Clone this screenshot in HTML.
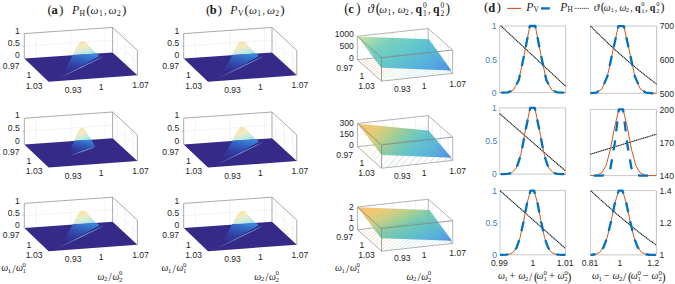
<!DOCTYPE html>
<html><head><meta charset="utf-8"><style>html,body{margin:0;padding:0;background:#fff;overflow:hidden}svg{display:block}</style></head>
<body><svg width="675" height="284" viewBox="0 0 675 284"><defs><linearGradient id="pkg" x1="0.25" y1="0" x2="0.8" y2="1"><stop offset="0" stop-color="#f6df94"/><stop offset="0.4" stop-color="#f2e8bc"/><stop offset="0.72" stop-color="#c4ead8"/><stop offset="1" stop-color="#90dce2"/></linearGradient><linearGradient id="slg" x1="0.7" y1="0" x2="0.3" y2="1"><stop offset="0" stop-color="#3a86d6"/><stop offset="0.25" stop-color="#3064c2"/><stop offset="0.55" stop-color="#3340a4"/><stop offset="0.8" stop-color="#352d8c"/><stop offset="1" stop-color="#352a87"/></linearGradient><linearGradient id="lng" x1="0" y1="0" x2="1" y2="0"><stop offset="0" stop-color="#6aaee6" stop-opacity="0.15"/><stop offset="0.5" stop-color="#7ab8ea" stop-opacity="0.95"/><stop offset="0.85" stop-color="#6aaee6" stop-opacity="0.8"/><stop offset="1" stop-color="#6aaee6" stop-opacity="0.3"/></linearGradient><filter id="bl" x="-20%" y="-20%" width="140%" height="140%"><feGaussianBlur stdDeviation="0.55"/></filter><clipPath id="cf1"><polygon points="357.30,59.70 428.20,51.90 452.60,73.40 381.50,81.20"/></clipPath><linearGradient id="sg1" gradientUnits="userSpaceOnUse" x1="357.63" y1="36.55" x2="402.39" y2="103.37"><stop offset="0" stop-color="#d0e18a"/><stop offset="0.1" stop-color="#a2d89c"/><stop offset="0.26" stop-color="#66c9b2"/><stop offset="0.5" stop-color="#4bbfc6"/><stop offset="0.75" stop-color="#40a5d9"/><stop offset="1" stop-color="#3b80e2"/></linearGradient><clipPath id="cf2"><polygon points="357.40,146.70 428.30,138.90 452.70,160.40 381.60,168.20"/></clipPath><linearGradient id="sg2" gradientUnits="userSpaceOnUse" x1="357.80" y1="123.70" x2="423.54" y2="186.94"><stop offset="0" stop-color="#f2b854"/><stop offset="0.17" stop-color="#e8c460"/><stop offset="0.32" stop-color="#b0c878"/><stop offset="0.45" stop-color="#78c498"/><stop offset="0.6" stop-color="#50bcc4"/><stop offset="0.79" stop-color="#44aad4"/><stop offset="1" stop-color="#3a7ee2"/></linearGradient><clipPath id="cf3"><polygon points="357.40,229.70 428.30,221.90 452.70,243.40 381.60,251.20"/></clipPath><linearGradient id="sg3" gradientUnits="userSpaceOnUse" x1="357.60" y1="207.30" x2="387.94" y2="270.97"><stop offset="0" stop-color="#f3b458"/><stop offset="0.15" stop-color="#f0c060"/><stop offset="0.29" stop-color="#c8c870"/><stop offset="0.42" stop-color="#90c888"/><stop offset="0.49" stop-color="#70c4a0"/><stop offset="0.64" stop-color="#50bcb8"/><stop offset="0.82" stop-color="#46a8d2"/><stop offset="1" stop-color="#3a80e2"/></linearGradient></defs><rect x="0" y="0" width="675" height="284" fill="#ffffff"/><line x1="36.00" y1="57.78" x2="36.00" y2="32.78" stroke="#ebebeb" stroke-width="0.6" /><line x1="70.70" y1="55.34" x2="70.70" y2="30.34" stroke="#ebebeb" stroke-width="0.6" /><line x1="105.30" y1="52.91" x2="105.30" y2="27.91" stroke="#ebebeb" stroke-width="0.6" /><line x1="24.30" y1="46.10" x2="112.60" y2="39.90" stroke="#ebebeb" stroke-width="0.6" /><line x1="116.82" y1="56.29" x2="116.82" y2="31.29" stroke="#ebebeb" stroke-width="0.6" /><line x1="125.00" y1="63.85" x2="125.00" y2="38.85" stroke="#ebebeb" stroke-width="0.6" /><line x1="133.18" y1="71.41" x2="133.18" y2="46.41" stroke="#ebebeb" stroke-width="0.6" /><line x1="112.60" y1="39.90" x2="137.40" y2="62.80" stroke="#ebebeb" stroke-width="0.6" /><line x1="24.30" y1="58.60" x2="24.30" y2="33.60" stroke="#a0a0a0" stroke-width="0.9" /><line x1="22.70" y1="46.10" x2="24.30" y2="46.10" stroke="#a0a0a0" stroke-width="0.7" /><line x1="24.30" y1="33.60" x2="112.60" y2="27.40" stroke="#a0a0a0" stroke-width="0.9" /><line x1="112.60" y1="52.40" x2="112.60" y2="27.40" stroke="#a0a0a0" stroke-width="0.9" /><line x1="112.60" y1="27.40" x2="137.40" y2="50.30" stroke="#a0a0a0" stroke-width="0.9" /><line x1="137.40" y1="75.30" x2="137.40" y2="50.30" stroke="#a0a0a0" stroke-width="0.9" /><path d="M72.80,54.40 C76.00,49.00 78.60,41.60 82.40,41.30 C86.40,41.00 90.00,47.60 96.40,53.60 Z" fill="url(#pkg)" fill-opacity="0.9" filter="url(#bl)"/><polygon points="24.30,58.60 112.60,52.40 137.40,75.30 48.60,81.80" fill="#352a87" /><polygon points="73.00,54.70 96.60,53.50 99.50,55.90 60.30,77.60" fill="url(#slg)" filter="url(#bl)"/><path d="M60.00,77.60 L102.80,56.80" stroke="url(#lng)" stroke-width="0.9" fill="none" filter="url(#bl)"/><text x="19.80" y="33.80" font-size="8.6" text-anchor="end" fill="#262626" font-family="Liberation Sans, sans-serif" >1</text><text x="19.80" y="46.20" font-size="8.6" text-anchor="end" fill="#262626" font-family="Liberation Sans, sans-serif" >0.5</text><text x="19.80" y="58.30" font-size="8.6" text-anchor="end" fill="#262626" font-family="Liberation Sans, sans-serif" >0</text><text x="19.60" y="68.70" font-size="8.6" text-anchor="end" fill="#262626" font-family="Liberation Sans, sans-serif" >0.97</text><text x="29.00" y="78.40" font-size="8.6" text-anchor="middle" fill="#262626" font-family="Liberation Sans, sans-serif" >1</text><text x="34.20" y="88.50" font-size="8.6" text-anchor="middle" fill="#262626" font-family="Liberation Sans, sans-serif" >1.03</text><text x="73.10" y="93.00" font-size="8.6" text-anchor="middle" fill="#262626" font-family="Liberation Sans, sans-serif" >0.93</text><text x="101.10" y="90.30" font-size="8.6" text-anchor="middle" fill="#262626" font-family="Liberation Sans, sans-serif" >1</text><text x="140.50" y="88.20" font-size="8.6" text-anchor="middle" fill="#262626" font-family="Liberation Sans, sans-serif" >1.07</text><line x1="36.00" y1="143.58" x2="36.00" y2="117.38" stroke="#ebebeb" stroke-width="0.6" /><line x1="70.70" y1="141.14" x2="70.70" y2="114.94" stroke="#ebebeb" stroke-width="0.6" /><line x1="105.30" y1="138.71" x2="105.30" y2="112.51" stroke="#ebebeb" stroke-width="0.6" /><line x1="24.30" y1="131.30" x2="112.60" y2="125.10" stroke="#ebebeb" stroke-width="0.6" /><line x1="116.82" y1="142.09" x2="116.82" y2="115.89" stroke="#ebebeb" stroke-width="0.6" /><line x1="125.00" y1="149.65" x2="125.00" y2="123.45" stroke="#ebebeb" stroke-width="0.6" /><line x1="133.18" y1="157.21" x2="133.18" y2="131.01" stroke="#ebebeb" stroke-width="0.6" /><line x1="112.60" y1="125.10" x2="137.40" y2="148.00" stroke="#ebebeb" stroke-width="0.6" /><line x1="24.30" y1="144.40" x2="24.30" y2="118.20" stroke="#a0a0a0" stroke-width="0.9" /><line x1="22.70" y1="131.30" x2="24.30" y2="131.30" stroke="#a0a0a0" stroke-width="0.7" /><line x1="24.30" y1="118.20" x2="112.60" y2="112.00" stroke="#a0a0a0" stroke-width="0.9" /><line x1="112.60" y1="138.20" x2="112.60" y2="112.00" stroke="#a0a0a0" stroke-width="0.9" /><line x1="112.60" y1="112.00" x2="137.40" y2="134.90" stroke="#a0a0a0" stroke-width="0.9" /><line x1="137.40" y1="161.10" x2="137.40" y2="134.90" stroke="#a0a0a0" stroke-width="0.9" /><path d="M74.30,140.20 C77.00,134.30 79.60,127.60 81.80,127.40 C84.20,127.60 87.40,133.80 91.40,139.70 Z" fill="url(#pkg)" fill-opacity="0.9" filter="url(#bl)"/><polygon points="24.30,144.40 112.60,138.20 137.40,161.10 48.60,167.60" fill="#352a87" /><polygon points="74.40,140.40 91.20,139.80 95.30,146.40 67.00,156.00" fill="url(#slg)" filter="url(#bl)"/><path d="M70.50,155.40 L94.80,147.10" stroke="url(#lng)" stroke-width="0.9" fill="none" filter="url(#bl)"/><text x="19.80" y="118.40" font-size="8.6" text-anchor="end" fill="#262626" font-family="Liberation Sans, sans-serif" >1</text><text x="19.80" y="131.40" font-size="8.6" text-anchor="end" fill="#262626" font-family="Liberation Sans, sans-serif" >0.5</text><text x="19.80" y="144.10" font-size="8.6" text-anchor="end" fill="#262626" font-family="Liberation Sans, sans-serif" >0</text><text x="19.60" y="154.50" font-size="8.6" text-anchor="end" fill="#262626" font-family="Liberation Sans, sans-serif" >0.97</text><text x="29.00" y="164.20" font-size="8.6" text-anchor="middle" fill="#262626" font-family="Liberation Sans, sans-serif" >1</text><text x="34.20" y="174.30" font-size="8.6" text-anchor="middle" fill="#262626" font-family="Liberation Sans, sans-serif" >1.03</text><text x="73.10" y="178.80" font-size="8.6" text-anchor="middle" fill="#262626" font-family="Liberation Sans, sans-serif" >0.93</text><text x="101.10" y="176.10" font-size="8.6" text-anchor="middle" fill="#262626" font-family="Liberation Sans, sans-serif" >1</text><text x="140.50" y="174.00" font-size="8.6" text-anchor="middle" fill="#262626" font-family="Liberation Sans, sans-serif" >1.07</text><line x1="36.00" y1="227.18" x2="36.00" y2="202.58" stroke="#ebebeb" stroke-width="0.6" /><line x1="70.70" y1="224.74" x2="70.70" y2="200.14" stroke="#ebebeb" stroke-width="0.6" /><line x1="105.30" y1="222.31" x2="105.30" y2="197.71" stroke="#ebebeb" stroke-width="0.6" /><line x1="24.30" y1="215.70" x2="112.60" y2="209.50" stroke="#ebebeb" stroke-width="0.6" /><line x1="116.82" y1="225.69" x2="116.82" y2="201.09" stroke="#ebebeb" stroke-width="0.6" /><line x1="125.00" y1="233.25" x2="125.00" y2="208.65" stroke="#ebebeb" stroke-width="0.6" /><line x1="133.18" y1="240.81" x2="133.18" y2="216.21" stroke="#ebebeb" stroke-width="0.6" /><line x1="112.60" y1="209.50" x2="137.40" y2="232.40" stroke="#ebebeb" stroke-width="0.6" /><line x1="24.30" y1="228.00" x2="24.30" y2="203.40" stroke="#a0a0a0" stroke-width="0.9" /><line x1="22.70" y1="215.70" x2="24.30" y2="215.70" stroke="#a0a0a0" stroke-width="0.7" /><line x1="24.30" y1="203.40" x2="112.60" y2="197.20" stroke="#a0a0a0" stroke-width="0.9" /><line x1="112.60" y1="221.80" x2="112.60" y2="197.20" stroke="#a0a0a0" stroke-width="0.9" /><line x1="112.60" y1="197.20" x2="137.40" y2="220.10" stroke="#a0a0a0" stroke-width="0.9" /><line x1="137.40" y1="244.70" x2="137.40" y2="220.10" stroke="#a0a0a0" stroke-width="0.9" /><path d="M72.80,223.80 C76.00,218.40 78.60,211.00 82.40,210.70 C86.40,210.40 90.00,217.00 96.40,223.00 Z" fill="url(#pkg)" fill-opacity="0.9" filter="url(#bl)"/><polygon points="24.30,228.00 112.60,221.80 137.40,244.70 48.60,251.20" fill="#352a87" /><polygon points="73.00,224.10 96.60,222.90 99.50,225.30 60.30,247.00" fill="url(#slg)" filter="url(#bl)"/><path d="M60.00,247.00 L102.80,226.20" stroke="url(#lng)" stroke-width="0.9" fill="none" filter="url(#bl)"/><text x="19.80" y="203.60" font-size="8.6" text-anchor="end" fill="#262626" font-family="Liberation Sans, sans-serif" >1</text><text x="19.80" y="215.80" font-size="8.6" text-anchor="end" fill="#262626" font-family="Liberation Sans, sans-serif" >0.5</text><text x="19.80" y="227.70" font-size="8.6" text-anchor="end" fill="#262626" font-family="Liberation Sans, sans-serif" >0</text><text x="19.60" y="238.10" font-size="8.6" text-anchor="end" fill="#262626" font-family="Liberation Sans, sans-serif" >0.97</text><text x="29.00" y="247.80" font-size="8.6" text-anchor="middle" fill="#262626" font-family="Liberation Sans, sans-serif" >1</text><text x="34.20" y="257.90" font-size="8.6" text-anchor="middle" fill="#262626" font-family="Liberation Sans, sans-serif" >1.03</text><text x="73.10" y="262.40" font-size="8.6" text-anchor="middle" fill="#262626" font-family="Liberation Sans, sans-serif" >0.93</text><text x="101.10" y="259.70" font-size="8.6" text-anchor="middle" fill="#262626" font-family="Liberation Sans, sans-serif" >1</text><text x="140.50" y="257.60" font-size="8.6" text-anchor="middle" fill="#262626" font-family="Liberation Sans, sans-serif" >1.07</text><line x1="195.40" y1="57.78" x2="195.40" y2="32.78" stroke="#ebebeb" stroke-width="0.6" /><line x1="230.10" y1="55.34" x2="230.10" y2="30.34" stroke="#ebebeb" stroke-width="0.6" /><line x1="264.70" y1="52.91" x2="264.70" y2="27.91" stroke="#ebebeb" stroke-width="0.6" /><line x1="183.70" y1="46.10" x2="272.00" y2="39.90" stroke="#ebebeb" stroke-width="0.6" /><line x1="276.22" y1="56.29" x2="276.22" y2="31.29" stroke="#ebebeb" stroke-width="0.6" /><line x1="284.40" y1="63.85" x2="284.40" y2="38.85" stroke="#ebebeb" stroke-width="0.6" /><line x1="292.58" y1="71.41" x2="292.58" y2="46.41" stroke="#ebebeb" stroke-width="0.6" /><line x1="272.00" y1="39.90" x2="296.80" y2="62.80" stroke="#ebebeb" stroke-width="0.6" /><line x1="183.70" y1="58.60" x2="183.70" y2="33.60" stroke="#a0a0a0" stroke-width="0.9" /><line x1="182.10" y1="46.10" x2="183.70" y2="46.10" stroke="#a0a0a0" stroke-width="0.7" /><line x1="183.70" y1="33.60" x2="272.00" y2="27.40" stroke="#a0a0a0" stroke-width="0.9" /><line x1="272.00" y1="52.40" x2="272.00" y2="27.40" stroke="#a0a0a0" stroke-width="0.9" /><line x1="272.00" y1="27.40" x2="296.80" y2="50.30" stroke="#a0a0a0" stroke-width="0.9" /><line x1="296.80" y1="75.30" x2="296.80" y2="50.30" stroke="#a0a0a0" stroke-width="0.9" /><path d="M232.20,54.40 C235.40,49.00 238.00,41.60 241.80,41.30 C245.80,41.00 249.40,47.60 255.80,53.60 Z" fill="url(#pkg)" fill-opacity="0.9" filter="url(#bl)"/><polygon points="183.70,58.60 272.00,52.40 296.80,75.30 208.00,81.80" fill="#352a87" /><polygon points="232.40,54.70 256.00,53.50 258.90,55.90 219.70,77.60" fill="url(#slg)" filter="url(#bl)"/><path d="M219.40,77.60 L262.20,56.80" stroke="url(#lng)" stroke-width="0.9" fill="none" filter="url(#bl)"/><text x="179.20" y="33.80" font-size="8.6" text-anchor="end" fill="#262626" font-family="Liberation Sans, sans-serif" >1</text><text x="179.20" y="46.20" font-size="8.6" text-anchor="end" fill="#262626" font-family="Liberation Sans, sans-serif" >0.5</text><text x="179.20" y="58.30" font-size="8.6" text-anchor="end" fill="#262626" font-family="Liberation Sans, sans-serif" >0</text><text x="179.00" y="68.70" font-size="8.6" text-anchor="end" fill="#262626" font-family="Liberation Sans, sans-serif" >0.97</text><text x="188.40" y="78.40" font-size="8.6" text-anchor="middle" fill="#262626" font-family="Liberation Sans, sans-serif" >1</text><text x="193.60" y="88.50" font-size="8.6" text-anchor="middle" fill="#262626" font-family="Liberation Sans, sans-serif" >1.03</text><text x="232.50" y="93.00" font-size="8.6" text-anchor="middle" fill="#262626" font-family="Liberation Sans, sans-serif" >0.93</text><text x="260.50" y="90.30" font-size="8.6" text-anchor="middle" fill="#262626" font-family="Liberation Sans, sans-serif" >1</text><text x="299.90" y="88.20" font-size="8.6" text-anchor="middle" fill="#262626" font-family="Liberation Sans, sans-serif" >1.07</text><line x1="195.40" y1="143.58" x2="195.40" y2="117.38" stroke="#ebebeb" stroke-width="0.6" /><line x1="230.10" y1="141.14" x2="230.10" y2="114.94" stroke="#ebebeb" stroke-width="0.6" /><line x1="264.70" y1="138.71" x2="264.70" y2="112.51" stroke="#ebebeb" stroke-width="0.6" /><line x1="183.70" y1="131.30" x2="272.00" y2="125.10" stroke="#ebebeb" stroke-width="0.6" /><line x1="276.22" y1="142.09" x2="276.22" y2="115.89" stroke="#ebebeb" stroke-width="0.6" /><line x1="284.40" y1="149.65" x2="284.40" y2="123.45" stroke="#ebebeb" stroke-width="0.6" /><line x1="292.58" y1="157.21" x2="292.58" y2="131.01" stroke="#ebebeb" stroke-width="0.6" /><line x1="272.00" y1="125.10" x2="296.80" y2="148.00" stroke="#ebebeb" stroke-width="0.6" /><line x1="183.70" y1="144.40" x2="183.70" y2="118.20" stroke="#a0a0a0" stroke-width="0.9" /><line x1="182.10" y1="131.30" x2="183.70" y2="131.30" stroke="#a0a0a0" stroke-width="0.7" /><line x1="183.70" y1="118.20" x2="272.00" y2="112.00" stroke="#a0a0a0" stroke-width="0.9" /><line x1="272.00" y1="138.20" x2="272.00" y2="112.00" stroke="#a0a0a0" stroke-width="0.9" /><line x1="272.00" y1="112.00" x2="296.80" y2="134.90" stroke="#a0a0a0" stroke-width="0.9" /><line x1="296.80" y1="161.10" x2="296.80" y2="134.90" stroke="#a0a0a0" stroke-width="0.9" /><path d="M232.20,140.20 C235.40,134.80 238.00,127.40 241.80,127.10 C245.80,126.80 249.40,133.40 255.80,139.40 Z" fill="url(#pkg)" fill-opacity="0.9" filter="url(#bl)"/><polygon points="183.70,144.40 272.00,138.20 296.80,161.10 208.00,167.60" fill="#352a87" /><polygon points="232.40,140.50 256.00,139.30 258.90,141.70 219.70,163.40" fill="url(#slg)" filter="url(#bl)"/><path d="M219.40,163.40 L262.20,142.60" stroke="url(#lng)" stroke-width="0.9" fill="none" filter="url(#bl)"/><text x="179.20" y="118.40" font-size="8.6" text-anchor="end" fill="#262626" font-family="Liberation Sans, sans-serif" >1</text><text x="179.20" y="131.40" font-size="8.6" text-anchor="end" fill="#262626" font-family="Liberation Sans, sans-serif" >0.5</text><text x="179.20" y="144.10" font-size="8.6" text-anchor="end" fill="#262626" font-family="Liberation Sans, sans-serif" >0</text><text x="179.00" y="154.50" font-size="8.6" text-anchor="end" fill="#262626" font-family="Liberation Sans, sans-serif" >0.97</text><text x="188.40" y="164.20" font-size="8.6" text-anchor="middle" fill="#262626" font-family="Liberation Sans, sans-serif" >1</text><text x="193.60" y="174.30" font-size="8.6" text-anchor="middle" fill="#262626" font-family="Liberation Sans, sans-serif" >1.03</text><text x="232.50" y="178.80" font-size="8.6" text-anchor="middle" fill="#262626" font-family="Liberation Sans, sans-serif" >0.93</text><text x="260.50" y="176.10" font-size="8.6" text-anchor="middle" fill="#262626" font-family="Liberation Sans, sans-serif" >1</text><text x="299.90" y="174.00" font-size="8.6" text-anchor="middle" fill="#262626" font-family="Liberation Sans, sans-serif" >1.07</text><line x1="195.40" y1="227.18" x2="195.40" y2="202.58" stroke="#ebebeb" stroke-width="0.6" /><line x1="230.10" y1="224.74" x2="230.10" y2="200.14" stroke="#ebebeb" stroke-width="0.6" /><line x1="264.70" y1="222.31" x2="264.70" y2="197.71" stroke="#ebebeb" stroke-width="0.6" /><line x1="183.70" y1="215.70" x2="272.00" y2="209.50" stroke="#ebebeb" stroke-width="0.6" /><line x1="276.22" y1="225.69" x2="276.22" y2="201.09" stroke="#ebebeb" stroke-width="0.6" /><line x1="284.40" y1="233.25" x2="284.40" y2="208.65" stroke="#ebebeb" stroke-width="0.6" /><line x1="292.58" y1="240.81" x2="292.58" y2="216.21" stroke="#ebebeb" stroke-width="0.6" /><line x1="272.00" y1="209.50" x2="296.80" y2="232.40" stroke="#ebebeb" stroke-width="0.6" /><line x1="183.70" y1="228.00" x2="183.70" y2="203.40" stroke="#a0a0a0" stroke-width="0.9" /><line x1="182.10" y1="215.70" x2="183.70" y2="215.70" stroke="#a0a0a0" stroke-width="0.7" /><line x1="183.70" y1="203.40" x2="272.00" y2="197.20" stroke="#a0a0a0" stroke-width="0.9" /><line x1="272.00" y1="221.80" x2="272.00" y2="197.20" stroke="#a0a0a0" stroke-width="0.9" /><line x1="272.00" y1="197.20" x2="296.80" y2="220.10" stroke="#a0a0a0" stroke-width="0.9" /><line x1="296.80" y1="244.70" x2="296.80" y2="220.10" stroke="#a0a0a0" stroke-width="0.9" /><path d="M232.20,223.80 C235.40,218.40 238.00,211.00 241.80,210.70 C245.80,210.40 249.40,217.00 255.80,223.00 Z" fill="url(#pkg)" fill-opacity="0.9" filter="url(#bl)"/><polygon points="183.70,228.00 272.00,221.80 296.80,244.70 208.00,251.20" fill="#352a87" /><polygon points="232.40,224.10 256.00,222.90 258.90,225.30 219.70,247.00" fill="url(#slg)" filter="url(#bl)"/><path d="M219.40,247.00 L262.20,226.20" stroke="url(#lng)" stroke-width="0.9" fill="none" filter="url(#bl)"/><text x="179.20" y="203.60" font-size="8.6" text-anchor="end" fill="#262626" font-family="Liberation Sans, sans-serif" >1</text><text x="179.20" y="215.80" font-size="8.6" text-anchor="end" fill="#262626" font-family="Liberation Sans, sans-serif" >0.5</text><text x="179.20" y="227.70" font-size="8.6" text-anchor="end" fill="#262626" font-family="Liberation Sans, sans-serif" >0</text><text x="179.00" y="238.10" font-size="8.6" text-anchor="end" fill="#262626" font-family="Liberation Sans, sans-serif" >0.97</text><text x="188.40" y="247.80" font-size="8.6" text-anchor="middle" fill="#262626" font-family="Liberation Sans, sans-serif" >1</text><text x="193.60" y="257.90" font-size="8.6" text-anchor="middle" fill="#262626" font-family="Liberation Sans, sans-serif" >1.03</text><text x="232.50" y="262.40" font-size="8.6" text-anchor="middle" fill="#262626" font-family="Liberation Sans, sans-serif" >0.93</text><text x="260.50" y="259.70" font-size="8.6" text-anchor="middle" fill="#262626" font-family="Liberation Sans, sans-serif" >1</text><text x="299.90" y="257.60" font-size="8.6" text-anchor="middle" fill="#262626" font-family="Liberation Sans, sans-serif" >1.07</text><line x1="370.06" y1="58.30" x2="370.06" y2="34.90" stroke="#ebebeb" stroke-width="0.6" /><line x1="392.75" y1="55.80" x2="392.75" y2="32.40" stroke="#ebebeb" stroke-width="0.6" /><line x1="415.44" y1="53.30" x2="415.44" y2="29.90" stroke="#ebebeb" stroke-width="0.6" /><line x1="357.30" y1="48.00" x2="428.20" y2="40.20" stroke="#ebebeb" stroke-width="0.6" /><line x1="432.35" y1="55.55" x2="432.35" y2="32.15" stroke="#ebebeb" stroke-width="0.6" /><line x1="440.40" y1="62.65" x2="440.40" y2="39.25" stroke="#ebebeb" stroke-width="0.6" /><line x1="448.45" y1="69.75" x2="448.45" y2="46.35" stroke="#ebebeb" stroke-width="0.6" /><g clip-path="url(#cf1)"><line x1="277.30" y1="89.70" x2="365.36" y2="26.30" stroke="#f3d3bd" stroke-width="0.7"/><line x1="281.00" y1="89.70" x2="369.06" y2="26.30" stroke="#f3d3bd" stroke-width="0.7"/><line x1="284.70" y1="89.70" x2="372.76" y2="26.30" stroke="#f3d3bd" stroke-width="0.7"/><line x1="288.40" y1="89.70" x2="376.46" y2="26.30" stroke="#f3d3bd" stroke-width="0.7"/><line x1="292.10" y1="89.70" x2="380.16" y2="26.30" stroke="#f3d3bd" stroke-width="0.7"/><line x1="295.80" y1="89.70" x2="383.86" y2="26.30" stroke="#f3d3bd" stroke-width="0.7"/><line x1="299.50" y1="89.70" x2="387.56" y2="26.30" stroke="#f3d3bd" stroke-width="0.7"/><line x1="303.20" y1="89.70" x2="391.26" y2="26.30" stroke="#f3d3bd" stroke-width="0.7"/><line x1="306.90" y1="89.70" x2="394.96" y2="26.30" stroke="#f3d3bd" stroke-width="0.7"/><line x1="310.60" y1="89.70" x2="398.66" y2="26.30" stroke="#f3d3bd" stroke-width="0.7"/><line x1="314.30" y1="89.70" x2="402.36" y2="26.30" stroke="#f3d3bd" stroke-width="0.7"/><line x1="318.00" y1="89.70" x2="406.06" y2="26.30" stroke="#f3d3bd" stroke-width="0.7"/><line x1="321.70" y1="89.70" x2="409.76" y2="26.30" stroke="#f3d3bd" stroke-width="0.7"/><line x1="325.40" y1="89.70" x2="413.46" y2="26.30" stroke="#f3d3bd" stroke-width="0.7"/><line x1="329.10" y1="89.70" x2="417.16" y2="26.30" stroke="#f3d3bd" stroke-width="0.7"/><line x1="332.80" y1="89.70" x2="420.86" y2="26.30" stroke="#f3d3bd" stroke-width="0.7"/><line x1="336.50" y1="89.70" x2="424.56" y2="26.30" stroke="#f3d3bd" stroke-width="0.7"/><line x1="340.20" y1="89.70" x2="428.26" y2="26.30" stroke="#f3d3bd" stroke-width="0.7"/><line x1="343.90" y1="89.70" x2="431.96" y2="26.30" stroke="#f3d3bd" stroke-width="0.7"/><line x1="347.60" y1="89.70" x2="435.66" y2="26.30" stroke="#f3d3bd" stroke-width="0.7"/><line x1="351.30" y1="89.70" x2="439.36" y2="26.30" stroke="#f3d3bd" stroke-width="0.7"/><line x1="355.00" y1="89.70" x2="443.06" y2="26.30" stroke="#f3d3bd" stroke-width="0.7"/><line x1="358.70" y1="89.70" x2="446.76" y2="26.30" stroke="#f3d3bd" stroke-width="0.7"/><line x1="362.40" y1="89.70" x2="450.46" y2="26.30" stroke="#f3d3bd" stroke-width="0.7"/><line x1="366.10" y1="89.70" x2="454.16" y2="26.30" stroke="#dbead6" stroke-width="0.7"/><line x1="369.80" y1="89.70" x2="457.86" y2="26.30" stroke="#dbead6" stroke-width="0.7"/><line x1="373.50" y1="89.70" x2="461.56" y2="26.30" stroke="#dbead6" stroke-width="0.7"/><line x1="377.20" y1="89.70" x2="465.26" y2="26.30" stroke="#dbead6" stroke-width="0.7"/><line x1="380.90" y1="89.70" x2="468.96" y2="26.30" stroke="#c4e4ee" stroke-width="0.7"/><line x1="384.60" y1="89.70" x2="472.66" y2="26.30" stroke="#c4e4ee" stroke-width="0.7"/><line x1="388.30" y1="89.70" x2="476.36" y2="26.30" stroke="#c4e4ee" stroke-width="0.7"/><line x1="392.00" y1="89.70" x2="480.06" y2="26.30" stroke="#c4e4ee" stroke-width="0.7"/><line x1="395.70" y1="89.70" x2="483.76" y2="26.30" stroke="#c4e4ee" stroke-width="0.7"/><line x1="399.40" y1="89.70" x2="487.46" y2="26.30" stroke="#c4e4ee" stroke-width="0.7"/><line x1="403.10" y1="89.70" x2="491.16" y2="26.30" stroke="#c4e4ee" stroke-width="0.7"/><line x1="406.80" y1="89.70" x2="494.86" y2="26.30" stroke="#c4e4ee" stroke-width="0.7"/><line x1="410.50" y1="89.70" x2="498.56" y2="26.30" stroke="#c4e4ee" stroke-width="0.7"/><line x1="414.20" y1="89.70" x2="502.26" y2="26.30" stroke="#c4e4ee" stroke-width="0.7"/><line x1="417.90" y1="89.70" x2="505.96" y2="26.30" stroke="#c4e4ee" stroke-width="0.7"/><line x1="421.60" y1="89.70" x2="509.66" y2="26.30" stroke="#c4e4ee" stroke-width="0.7"/><line x1="425.30" y1="89.70" x2="513.36" y2="26.30" stroke="#c4e4ee" stroke-width="0.7"/><line x1="429.00" y1="89.70" x2="517.06" y2="26.30" stroke="#c4e4ee" stroke-width="0.7"/><line x1="432.70" y1="89.70" x2="520.76" y2="26.30" stroke="#c4e4ee" stroke-width="0.7"/><line x1="436.40" y1="89.70" x2="524.46" y2="26.30" stroke="#c4e4ee" stroke-width="0.7"/><line x1="440.10" y1="89.70" x2="528.16" y2="26.30" stroke="#c4e4ee" stroke-width="0.7"/><line x1="443.80" y1="89.70" x2="531.86" y2="26.30" stroke="#c4e4ee" stroke-width="0.7"/><line x1="447.50" y1="89.70" x2="535.56" y2="26.30" stroke="#c4e4ee" stroke-width="0.7"/><line x1="451.20" y1="89.70" x2="539.26" y2="26.30" stroke="#c4e4ee" stroke-width="0.7"/><line x1="454.90" y1="89.70" x2="542.96" y2="26.30" stroke="#c4e4ee" stroke-width="0.7"/><line x1="458.60" y1="89.70" x2="546.66" y2="26.30" stroke="#c4e4ee" stroke-width="0.7"/><line x1="462.30" y1="89.70" x2="550.36" y2="26.30" stroke="#c4e4ee" stroke-width="0.7"/></g><line x1="357.30" y1="36.30" x2="357.30" y2="59.70" stroke="#a0a0a0" stroke-width="0.8" /><line x1="357.30" y1="36.30" x2="428.20" y2="28.50" stroke="#a0a0a0" stroke-width="0.8" /><line x1="428.20" y1="28.50" x2="428.20" y2="51.90" stroke="#a0a0a0" stroke-width="0.8" /><line x1="428.20" y1="28.50" x2="452.60" y2="50.00" stroke="#a0a0a0" stroke-width="0.8" /><line x1="452.60" y1="50.00" x2="452.60" y2="73.40" stroke="#a0a0a0" stroke-width="0.8" /><line x1="357.30" y1="59.70" x2="428.20" y2="51.90" stroke="#a0a0a0" stroke-width="0.8" /><line x1="428.20" y1="51.90" x2="452.60" y2="73.40" stroke="#a0a0a0" stroke-width="0.8" /><line x1="357.30" y1="59.70" x2="381.50" y2="81.20" stroke="#a0a0a0" stroke-width="0.8" /><line x1="381.50" y1="81.20" x2="452.60" y2="73.40" stroke="#a0a0a0" stroke-width="0.8" /><polygon points="357.60,36.50 428.90,39.20 451.50,70.40 381.20,67.80" fill="url(#sg1)" fill-opacity="0.87"/><line x1="357.30" y1="36.30" x2="381.50" y2="57.80" stroke="#858585" stroke-width="0.8" /><line x1="381.50" y1="57.80" x2="381.50" y2="81.20" stroke="#858585" stroke-width="0.8" /><line x1="381.50" y1="57.80" x2="452.60" y2="50.00" stroke="#858585" stroke-width="0.8" /><text x="353.10" y="70.60" font-size="8.6" text-anchor="end" fill="#262626" font-family="Liberation Sans, sans-serif" >0.97</text><text x="361.90" y="78.90" font-size="8.6" text-anchor="middle" fill="#262626" font-family="Liberation Sans, sans-serif" >1</text><text x="366.50" y="89.20" font-size="8.6" text-anchor="middle" fill="#262626" font-family="Liberation Sans, sans-serif" >1.03</text><text x="402.30" y="92.30" font-size="8.6" text-anchor="middle" fill="#262626" font-family="Liberation Sans, sans-serif" >0.93</text><text x="424.10" y="89.20" font-size="8.6" text-anchor="middle" fill="#262626" font-family="Liberation Sans, sans-serif" >1</text><text x="457.70" y="87.20" font-size="8.6" text-anchor="middle" fill="#262626" font-family="Liberation Sans, sans-serif" >1.07</text><text x="353.90" y="37.45" font-size="8.6" text-anchor="end" fill="#262626" font-family="Liberation Sans, sans-serif" >1000</text><text x="353.90" y="49.10" font-size="8.6" text-anchor="end" fill="#262626" font-family="Liberation Sans, sans-serif" >500</text><text x="353.90" y="60.85" font-size="8.6" text-anchor="end" fill="#262626" font-family="Liberation Sans, sans-serif" >0</text><line x1="370.16" y1="145.30" x2="370.16" y2="122.00" stroke="#ebebeb" stroke-width="0.6" /><line x1="392.85" y1="142.80" x2="392.85" y2="119.50" stroke="#ebebeb" stroke-width="0.6" /><line x1="415.54" y1="140.30" x2="415.54" y2="117.00" stroke="#ebebeb" stroke-width="0.6" /><line x1="357.40" y1="135.05" x2="428.30" y2="127.25" stroke="#ebebeb" stroke-width="0.6" /><line x1="432.45" y1="142.56" x2="432.45" y2="119.26" stroke="#ebebeb" stroke-width="0.6" /><line x1="440.50" y1="149.65" x2="440.50" y2="126.35" stroke="#ebebeb" stroke-width="0.6" /><line x1="448.55" y1="156.75" x2="448.55" y2="133.44" stroke="#ebebeb" stroke-width="0.6" /><g clip-path="url(#cf2)"><line x1="277.40" y1="176.70" x2="330.15" y2="113.40" stroke="#efe2b8" stroke-width="0.7"/><line x1="283.80" y1="176.70" x2="336.55" y2="113.40" stroke="#efe2b8" stroke-width="0.7"/><line x1="290.20" y1="176.70" x2="342.95" y2="113.40" stroke="#efe2b8" stroke-width="0.7"/><line x1="296.60" y1="176.70" x2="349.35" y2="113.40" stroke="#efe2b8" stroke-width="0.7"/><line x1="303.00" y1="176.70" x2="355.75" y2="113.40" stroke="#efe2b8" stroke-width="0.7"/><line x1="309.40" y1="176.70" x2="362.15" y2="113.40" stroke="#efe2b8" stroke-width="0.7"/><line x1="315.80" y1="176.70" x2="368.55" y2="113.40" stroke="#efe2b8" stroke-width="0.7"/><line x1="322.20" y1="176.70" x2="374.95" y2="113.40" stroke="#efe2b8" stroke-width="0.7"/><line x1="328.60" y1="176.70" x2="381.35" y2="113.40" stroke="#efe2b8" stroke-width="0.7"/><line x1="335.00" y1="176.70" x2="387.75" y2="113.40" stroke="#efe2b8" stroke-width="0.7"/><line x1="341.40" y1="176.70" x2="394.15" y2="113.40" stroke="#efe2b8" stroke-width="0.7"/><line x1="347.80" y1="176.70" x2="400.55" y2="113.40" stroke="#efe2b8" stroke-width="0.7"/><line x1="354.20" y1="176.70" x2="406.95" y2="113.40" stroke="#efe2b8" stroke-width="0.7"/><line x1="360.60" y1="176.70" x2="413.35" y2="113.40" stroke="#efe2b8" stroke-width="0.7"/><line x1="367.00" y1="176.70" x2="419.75" y2="113.40" stroke="#d6e4d8" stroke-width="0.7"/><line x1="373.40" y1="176.70" x2="426.15" y2="113.40" stroke="#d6e4d8" stroke-width="0.7"/><line x1="379.80" y1="176.70" x2="432.55" y2="113.40" stroke="#b9cfe0" stroke-width="0.7"/><line x1="386.20" y1="176.70" x2="438.95" y2="113.40" stroke="#b9cfe0" stroke-width="0.7"/><line x1="392.60" y1="176.70" x2="445.35" y2="113.40" stroke="#b9cfe0" stroke-width="0.7"/><line x1="399.00" y1="176.70" x2="451.75" y2="113.40" stroke="#b9cfe0" stroke-width="0.7"/><line x1="405.40" y1="176.70" x2="458.15" y2="113.40" stroke="#b9cfe0" stroke-width="0.7"/><line x1="411.80" y1="176.70" x2="464.55" y2="113.40" stroke="#b9cfe0" stroke-width="0.7"/><line x1="418.20" y1="176.70" x2="470.95" y2="113.40" stroke="#b9cfe0" stroke-width="0.7"/><line x1="424.60" y1="176.70" x2="477.35" y2="113.40" stroke="#b9cfe0" stroke-width="0.7"/><line x1="431.00" y1="176.70" x2="483.75" y2="113.40" stroke="#b9cfe0" stroke-width="0.7"/><line x1="437.40" y1="176.70" x2="490.15" y2="113.40" stroke="#b9cfe0" stroke-width="0.7"/><line x1="443.80" y1="176.70" x2="496.55" y2="113.40" stroke="#b9cfe0" stroke-width="0.7"/><line x1="450.20" y1="176.70" x2="502.95" y2="113.40" stroke="#b9cfe0" stroke-width="0.7"/><line x1="456.60" y1="176.70" x2="509.35" y2="113.40" stroke="#b9cfe0" stroke-width="0.7"/></g><line x1="357.40" y1="123.40" x2="357.40" y2="146.70" stroke="#a0a0a0" stroke-width="0.8" /><line x1="357.40" y1="123.40" x2="428.30" y2="115.60" stroke="#a0a0a0" stroke-width="0.8" /><line x1="428.30" y1="115.60" x2="428.30" y2="138.90" stroke="#a0a0a0" stroke-width="0.8" /><line x1="428.30" y1="115.60" x2="452.70" y2="137.10" stroke="#a0a0a0" stroke-width="0.8" /><line x1="452.70" y1="137.10" x2="452.70" y2="160.40" stroke="#a0a0a0" stroke-width="0.8" /><line x1="357.40" y1="146.70" x2="428.30" y2="138.90" stroke="#a0a0a0" stroke-width="0.8" /><line x1="428.30" y1="138.90" x2="452.70" y2="160.40" stroke="#a0a0a0" stroke-width="0.8" /><line x1="357.40" y1="146.70" x2="381.60" y2="168.20" stroke="#a0a0a0" stroke-width="0.8" /><line x1="381.60" y1="168.20" x2="452.70" y2="160.40" stroke="#a0a0a0" stroke-width="0.8" /><polygon points="357.80,123.70 428.60,130.40 451.60,157.80 381.50,155.00" fill="url(#sg2)" fill-opacity="0.87"/><line x1="357.40" y1="123.40" x2="381.60" y2="144.90" stroke="#858585" stroke-width="0.8" /><line x1="381.60" y1="144.90" x2="381.60" y2="168.20" stroke="#858585" stroke-width="0.8" /><line x1="381.60" y1="144.90" x2="452.70" y2="137.10" stroke="#858585" stroke-width="0.8" /><text x="353.10" y="157.70" font-size="8.6" text-anchor="end" fill="#262626" font-family="Liberation Sans, sans-serif" >0.97</text><text x="361.90" y="166.00" font-size="8.6" text-anchor="middle" fill="#262626" font-family="Liberation Sans, sans-serif" >1</text><text x="366.50" y="176.30" font-size="8.6" text-anchor="middle" fill="#262626" font-family="Liberation Sans, sans-serif" >1.03</text><text x="402.30" y="179.40" font-size="8.6" text-anchor="middle" fill="#262626" font-family="Liberation Sans, sans-serif" >0.93</text><text x="424.10" y="176.30" font-size="8.6" text-anchor="middle" fill="#262626" font-family="Liberation Sans, sans-serif" >1</text><text x="457.70" y="174.30" font-size="8.6" text-anchor="middle" fill="#262626" font-family="Liberation Sans, sans-serif" >1.07</text><text x="353.90" y="125.90" font-size="8.6" text-anchor="end" fill="#262626" font-family="Liberation Sans, sans-serif" >300</text><text x="353.90" y="136.90" font-size="8.6" text-anchor="end" fill="#262626" font-family="Liberation Sans, sans-serif" >150</text><text x="353.90" y="147.60" font-size="8.6" text-anchor="end" fill="#262626" font-family="Liberation Sans, sans-serif" >0</text><line x1="370.16" y1="228.30" x2="370.16" y2="205.60" stroke="#ebebeb" stroke-width="0.6" /><line x1="392.85" y1="225.80" x2="392.85" y2="203.10" stroke="#ebebeb" stroke-width="0.6" /><line x1="415.54" y1="223.30" x2="415.54" y2="200.60" stroke="#ebebeb" stroke-width="0.6" /><line x1="357.40" y1="218.35" x2="428.30" y2="210.55" stroke="#ebebeb" stroke-width="0.6" /><line x1="432.45" y1="225.55" x2="432.45" y2="202.85" stroke="#ebebeb" stroke-width="0.6" /><line x1="440.50" y1="232.65" x2="440.50" y2="209.95" stroke="#ebebeb" stroke-width="0.6" /><line x1="448.55" y1="239.74" x2="448.55" y2="217.04" stroke="#ebebeb" stroke-width="0.6" /><g clip-path="url(#cf3)"><line x1="277.40" y1="259.70" x2="364.48" y2="197.00" stroke="#f3dcc0" stroke-width="0.7"/><line x1="281.90" y1="259.70" x2="368.98" y2="197.00" stroke="#f3dcc0" stroke-width="0.7"/><line x1="286.40" y1="259.70" x2="373.48" y2="197.00" stroke="#f3dcc0" stroke-width="0.7"/><line x1="290.90" y1="259.70" x2="377.98" y2="197.00" stroke="#f3dcc0" stroke-width="0.7"/><line x1="295.40" y1="259.70" x2="382.48" y2="197.00" stroke="#f3dcc0" stroke-width="0.7"/><line x1="299.90" y1="259.70" x2="386.98" y2="197.00" stroke="#f3dcc0" stroke-width="0.7"/><line x1="304.40" y1="259.70" x2="391.48" y2="197.00" stroke="#f3dcc0" stroke-width="0.7"/><line x1="308.90" y1="259.70" x2="395.98" y2="197.00" stroke="#f3dcc0" stroke-width="0.7"/><line x1="313.40" y1="259.70" x2="400.48" y2="197.00" stroke="#f3dcc0" stroke-width="0.7"/><line x1="317.90" y1="259.70" x2="404.98" y2="197.00" stroke="#f3dcc0" stroke-width="0.7"/><line x1="322.40" y1="259.70" x2="409.48" y2="197.00" stroke="#f3dcc0" stroke-width="0.7"/><line x1="326.90" y1="259.70" x2="413.98" y2="197.00" stroke="#f3dcc0" stroke-width="0.7"/><line x1="331.40" y1="259.70" x2="418.48" y2="197.00" stroke="#f3dcc0" stroke-width="0.7"/><line x1="335.90" y1="259.70" x2="422.98" y2="197.00" stroke="#f3dcc0" stroke-width="0.7"/><line x1="340.40" y1="259.70" x2="427.48" y2="197.00" stroke="#f3dcc0" stroke-width="0.7"/><line x1="344.90" y1="259.70" x2="431.98" y2="197.00" stroke="#f3dcc0" stroke-width="0.7"/><line x1="349.40" y1="259.70" x2="436.48" y2="197.00" stroke="#f3dcc0" stroke-width="0.7"/><line x1="353.90" y1="259.70" x2="440.98" y2="197.00" stroke="#f3dcc0" stroke-width="0.7"/><line x1="358.40" y1="259.70" x2="445.48" y2="197.00" stroke="#f3dcc0" stroke-width="0.7"/><line x1="362.90" y1="259.70" x2="449.98" y2="197.00" stroke="#f3dcc0" stroke-width="0.7"/><line x1="367.40" y1="259.70" x2="454.48" y2="197.00" stroke="#dbead6" stroke-width="0.7"/><line x1="371.90" y1="259.70" x2="458.98" y2="197.00" stroke="#dbead6" stroke-width="0.7"/><line x1="376.40" y1="259.70" x2="463.48" y2="197.00" stroke="#dbead6" stroke-width="0.7"/><line x1="380.90" y1="259.70" x2="467.98" y2="197.00" stroke="#c4e2ee" stroke-width="0.7"/><line x1="385.40" y1="259.70" x2="472.48" y2="197.00" stroke="#c4e2ee" stroke-width="0.7"/><line x1="389.90" y1="259.70" x2="476.98" y2="197.00" stroke="#c4e2ee" stroke-width="0.7"/><line x1="394.40" y1="259.70" x2="481.48" y2="197.00" stroke="#c4e2ee" stroke-width="0.7"/><line x1="398.90" y1="259.70" x2="485.98" y2="197.00" stroke="#c4e2ee" stroke-width="0.7"/><line x1="403.40" y1="259.70" x2="490.48" y2="197.00" stroke="#c4e2ee" stroke-width="0.7"/><line x1="407.90" y1="259.70" x2="494.98" y2="197.00" stroke="#c4e2ee" stroke-width="0.7"/><line x1="412.40" y1="259.70" x2="499.48" y2="197.00" stroke="#c4e2ee" stroke-width="0.7"/><line x1="416.90" y1="259.70" x2="503.98" y2="197.00" stroke="#c4e2ee" stroke-width="0.7"/><line x1="421.40" y1="259.70" x2="508.48" y2="197.00" stroke="#c4e2ee" stroke-width="0.7"/><line x1="425.90" y1="259.70" x2="512.98" y2="197.00" stroke="#c4e2ee" stroke-width="0.7"/><line x1="430.40" y1="259.70" x2="517.48" y2="197.00" stroke="#c4e2ee" stroke-width="0.7"/><line x1="434.90" y1="259.70" x2="521.98" y2="197.00" stroke="#c4e2ee" stroke-width="0.7"/><line x1="439.40" y1="259.70" x2="526.48" y2="197.00" stroke="#c4e2ee" stroke-width="0.7"/><line x1="443.90" y1="259.70" x2="530.98" y2="197.00" stroke="#c4e2ee" stroke-width="0.7"/><line x1="448.40" y1="259.70" x2="535.48" y2="197.00" stroke="#c4e2ee" stroke-width="0.7"/><line x1="452.90" y1="259.70" x2="539.98" y2="197.00" stroke="#c4e2ee" stroke-width="0.7"/><line x1="457.40" y1="259.70" x2="544.48" y2="197.00" stroke="#c4e2ee" stroke-width="0.7"/><line x1="461.90" y1="259.70" x2="548.98" y2="197.00" stroke="#c4e2ee" stroke-width="0.7"/></g><line x1="357.40" y1="207.00" x2="357.40" y2="229.70" stroke="#a0a0a0" stroke-width="0.8" /><line x1="357.40" y1="207.00" x2="428.30" y2="199.20" stroke="#a0a0a0" stroke-width="0.8" /><line x1="428.30" y1="199.20" x2="428.30" y2="221.90" stroke="#a0a0a0" stroke-width="0.8" /><line x1="428.30" y1="199.20" x2="452.70" y2="220.70" stroke="#a0a0a0" stroke-width="0.8" /><line x1="452.70" y1="220.70" x2="452.70" y2="243.40" stroke="#a0a0a0" stroke-width="0.8" /><line x1="357.40" y1="229.70" x2="428.30" y2="221.90" stroke="#a0a0a0" stroke-width="0.8" /><line x1="428.30" y1="221.90" x2="452.70" y2="243.40" stroke="#a0a0a0" stroke-width="0.8" /><line x1="357.40" y1="229.70" x2="381.60" y2="251.20" stroke="#a0a0a0" stroke-width="0.8" /><line x1="381.60" y1="251.20" x2="452.70" y2="243.40" stroke="#a0a0a0" stroke-width="0.8" /><polygon points="357.60,207.30 429.50,210.10 452.00,240.80 381.00,238.20" fill="url(#sg3)" fill-opacity="0.87"/><line x1="357.40" y1="207.00" x2="381.60" y2="228.50" stroke="#858585" stroke-width="0.8" /><line x1="381.60" y1="228.50" x2="381.60" y2="251.20" stroke="#858585" stroke-width="0.8" /><line x1="381.60" y1="228.50" x2="452.70" y2="220.70" stroke="#858585" stroke-width="0.8" /><text x="353.10" y="239.60" font-size="8.6" text-anchor="end" fill="#262626" font-family="Liberation Sans, sans-serif" >0.97</text><text x="361.90" y="247.90" font-size="8.6" text-anchor="middle" fill="#262626" font-family="Liberation Sans, sans-serif" >1</text><text x="366.50" y="258.20" font-size="8.6" text-anchor="middle" fill="#262626" font-family="Liberation Sans, sans-serif" >1.03</text><text x="402.30" y="261.30" font-size="8.6" text-anchor="middle" fill="#262626" font-family="Liberation Sans, sans-serif" >0.93</text><text x="424.10" y="258.20" font-size="8.6" text-anchor="middle" fill="#262626" font-family="Liberation Sans, sans-serif" >1</text><text x="457.70" y="256.20" font-size="8.6" text-anchor="middle" fill="#262626" font-family="Liberation Sans, sans-serif" >1.07</text><text x="353.90" y="210.30" font-size="8.6" text-anchor="end" fill="#262626" font-family="Liberation Sans, sans-serif" >2</text><text x="353.90" y="221.10" font-size="8.6" text-anchor="end" fill="#262626" font-family="Liberation Sans, sans-serif" >1</text><text x="353.90" y="230.70" font-size="8.6" text-anchor="end" fill="#262626" font-family="Liberation Sans, sans-serif" >0</text><text x="47.60" y="13.95" font-family="Liberation Serif, serif" font-size="13.3" fill="#1a1a1a">(</text><text x="51.40" y="13.70" font-family="Liberation Serif, serif" font-size="12.5" font-weight="bold" fill="#1a1a1a">a</text><text x="59.10" y="13.95" font-family="Liberation Serif, serif" font-size="13.3" fill="#1a1a1a">)</text><text x="72.00" y="13.70" font-family="Liberation Serif, serif" font-size="11.8" font-style="italic" fill="#1a1a1a">P</text><text x="79.60" y="15.50" font-family="Liberation Serif, serif" font-size="7.6" fill="#1a1a1a">H</text><text x="86.20" y="13.95" font-family="Liberation Serif, serif" font-size="13.3" fill="#1a1a1a">(</text><text x="90.60" y="13.70" font-family="Liberation Serif, serif" font-size="11.2" font-style="italic" fill="#1a1a1a">ω</text><text x="98.90" y="15.50" font-family="Liberation Serif, serif" font-size="7.6" fill="#1a1a1a">1</text><text x="104.00" y="13.70" font-family="Liberation Serif, serif" font-size="11.2" fill="#1a1a1a">,</text><text x="108.60" y="13.70" font-family="Liberation Serif, serif" font-size="11.2" font-style="italic" fill="#1a1a1a">ω</text><text x="116.90" y="15.50" font-family="Liberation Serif, serif" font-size="7.6" fill="#1a1a1a">2</text><text x="122.00" y="13.95" font-family="Liberation Serif, serif" font-size="13.3" fill="#1a1a1a">)</text><text x="205.90" y="13.95" font-family="Liberation Serif, serif" font-size="13.3" fill="#1a1a1a">(</text><text x="209.70" y="13.70" font-family="Liberation Serif, serif" font-size="12.5" font-weight="bold" fill="#1a1a1a">b</text><text x="217.40" y="13.95" font-family="Liberation Serif, serif" font-size="13.3" fill="#1a1a1a">)</text><text x="230.30" y="13.70" font-family="Liberation Serif, serif" font-size="11.8" font-style="italic" fill="#1a1a1a">P</text><text x="237.90" y="15.50" font-family="Liberation Serif, serif" font-size="7.6" fill="#1a1a1a">V</text><text x="244.50" y="13.95" font-family="Liberation Serif, serif" font-size="13.3" fill="#1a1a1a">(</text><text x="248.90" y="13.70" font-family="Liberation Serif, serif" font-size="11.2" font-style="italic" fill="#1a1a1a">ω</text><text x="257.20" y="15.50" font-family="Liberation Serif, serif" font-size="7.6" fill="#1a1a1a">1</text><text x="262.30" y="13.70" font-family="Liberation Serif, serif" font-size="11.2" fill="#1a1a1a">,</text><text x="266.90" y="13.70" font-family="Liberation Serif, serif" font-size="11.2" font-style="italic" fill="#1a1a1a">ω</text><text x="275.20" y="15.50" font-family="Liberation Serif, serif" font-size="7.6" fill="#1a1a1a">2</text><text x="280.30" y="13.95" font-family="Liberation Serif, serif" font-size="13.3" fill="#1a1a1a">)</text><text x="344.20" y="13.30" font-family="Liberation Serif, serif" font-size="13.7" fill="#1a1a1a">(</text><text x="348.20" y="13.40" font-family="Liberation Serif, serif" font-size="12.5" font-weight="bold" fill="#1a1a1a">c</text><text x="355.90" y="13.30" font-family="Liberation Serif, serif" font-size="13.7" fill="#1a1a1a">)</text><text x="367.60" y="13.40" font-family="Liberation Serif, serif" font-size="12.882" font-style="italic" fill="#1a1a1a">ϑ</text><text x="375.80" y="13.35" font-family="Liberation Serif, serif" font-size="13.68" fill="#1a1a1a">(</text><text x="379.30" y="13.40" font-family="Liberation Serif, serif" font-size="11.058" font-style="italic" fill="#1a1a1a">ω</text><text x="387.40" y="15.20" font-family="Liberation Serif, serif" font-size="7.524000000000001" fill="#1a1a1a">1</text><text x="392.00" y="13.40" font-family="Liberation Serif, serif" font-size="11.4" fill="#1a1a1a">,</text><text x="397.70" y="13.40" font-family="Liberation Serif, serif" font-size="11.058" font-style="italic" fill="#1a1a1a">ω</text><text x="405.00" y="15.20" font-family="Liberation Serif, serif" font-size="7.524000000000001" fill="#1a1a1a">2</text><text x="410.30" y="13.40" font-family="Liberation Serif, serif" font-size="11.4" fill="#1a1a1a">,</text><text x="415.60" y="13.40" font-family="Liberation Serif, serif" font-size="11.628" font-weight="bold" fill="#1a1a1a">q</text><text x="423.00" y="7.60" font-family="Liberation Serif, serif" font-size="7.524000000000001" fill="#1a1a1a">0</text><text x="423.00" y="16.00" font-family="Liberation Serif, serif" font-size="7.524000000000001" fill="#1a1a1a">1</text><text x="427.80" y="13.40" font-family="Liberation Serif, serif" font-size="11.4" fill="#1a1a1a">,</text><text x="433.00" y="13.40" font-family="Liberation Serif, serif" font-size="11.628" font-weight="bold" fill="#1a1a1a">q</text><text x="440.50" y="7.60" font-family="Liberation Serif, serif" font-size="7.524000000000001" fill="#1a1a1a">0</text><text x="440.50" y="16.00" font-family="Liberation Serif, serif" font-size="7.524000000000001" fill="#1a1a1a">2</text><text x="445.50" y="13.35" font-family="Liberation Serif, serif" font-size="13.68" fill="#1a1a1a">)</text><text x="483.90" y="11.30" font-family="Liberation Serif, serif" font-size="13.4" fill="#1a1a1a">(</text><text x="488.30" y="11.50" font-family="Liberation Serif, serif" font-size="12.5" font-weight="bold" fill="#1a1a1a">d</text><text x="496.60" y="11.30" font-family="Liberation Serif, serif" font-size="13.4" fill="#1a1a1a">)</text><line x1="507.10" y1="8.40" x2="520.90" y2="8.40" stroke="#d95319" stroke-width="1.1" /><text x="526.20" y="10.70" font-family="Liberation Serif, serif" font-size="11.6" font-style="italic" fill="#1a1a1a">P</text><text x="533.40" y="12.30" font-family="Liberation Serif, serif" font-size="7.4" fill="#1a1a1a">V</text><line x1="540.90" y1="8.40" x2="549.80" y2="8.40" stroke="#0072bd" stroke-width="2.3" /><text x="560.30" y="10.70" font-family="Liberation Serif, serif" font-size="11.6" font-style="italic" fill="#1a1a1a">P</text><text x="567.60" y="12.30" font-family="Liberation Serif, serif" font-size="7.4" fill="#1a1a1a">H</text><line x1="574.60" y1="8.40" x2="588.80" y2="8.40" stroke="#1e1e1e" stroke-width="0.85" stroke-dasharray="1.1,0.75"/><text x="593.76" y="10.70" font-family="Liberation Serif, serif" font-size="11.187" font-style="italic" fill="#1a1a1a">ϑ</text><text x="600.78" y="10.66" font-family="Liberation Serif, serif" font-size="11.88" fill="#1a1a1a">(</text><text x="603.78" y="10.70" font-family="Liberation Serif, serif" font-size="9.603" font-style="italic" fill="#1a1a1a">ω</text><text x="610.73" y="12.24" font-family="Liberation Serif, serif" font-size="6.534000000000001" fill="#1a1a1a">1</text><text x="614.67" y="10.70" font-family="Liberation Serif, serif" font-size="9.9" fill="#1a1a1a">,</text><text x="619.55" y="10.70" font-family="Liberation Serif, serif" font-size="9.603" font-style="italic" fill="#1a1a1a">ω</text><text x="625.81" y="12.24" font-family="Liberation Serif, serif" font-size="6.534000000000001" fill="#1a1a1a">2</text><text x="630.35" y="10.70" font-family="Liberation Serif, serif" font-size="9.9" fill="#1a1a1a">,</text><text x="634.89" y="10.70" font-family="Liberation Serif, serif" font-size="10.098" font-weight="bold" fill="#1a1a1a">q</text><text x="641.24" y="5.73" font-family="Liberation Serif, serif" font-size="6.534000000000001" fill="#1a1a1a">0</text><text x="641.24" y="12.93" font-family="Liberation Serif, serif" font-size="6.534000000000001" fill="#1a1a1a">1</text><text x="645.35" y="10.70" font-family="Liberation Serif, serif" font-size="9.9" fill="#1a1a1a">,</text><text x="649.81" y="10.70" font-family="Liberation Serif, serif" font-size="10.098" font-weight="bold" fill="#1a1a1a">q</text><text x="656.23" y="5.73" font-family="Liberation Serif, serif" font-size="6.534000000000001" fill="#1a1a1a">0</text><text x="656.23" y="12.93" font-family="Liberation Serif, serif" font-size="6.534000000000001" fill="#1a1a1a">2</text><text x="660.52" y="10.66" font-family="Liberation Serif, serif" font-size="11.88" fill="#1a1a1a">)</text><text x="1.20" y="271.30" font-family="Liberation Serif, serif" font-size="9.8" font-style="italic" fill="#1a1a1a">ω</text><text x="7.70" y="273.10" font-family="Liberation Serif, serif" font-size="6.8" fill="#1a1a1a">1</text><text x="12.20" y="273.10" font-family="Liberation Serif, serif" font-size="11.8" fill="#1a1a1a">/</text><text x="16.10" y="271.30" font-family="Liberation Serif, serif" font-size="9.8" font-style="italic" fill="#1a1a1a">ω</text><text x="22.60" y="266.90" font-family="Liberation Serif, serif" font-size="6.8" fill="#1a1a1a">0</text><text x="22.60" y="273.30" font-family="Liberation Serif, serif" font-size="6.8" fill="#1a1a1a">1</text><text x="161.60" y="271.30" font-family="Liberation Serif, serif" font-size="9.8" font-style="italic" fill="#1a1a1a">ω</text><text x="168.10" y="273.10" font-family="Liberation Serif, serif" font-size="6.8" fill="#1a1a1a">1</text><text x="172.60" y="273.10" font-family="Liberation Serif, serif" font-size="11.8" fill="#1a1a1a">/</text><text x="176.50" y="271.30" font-family="Liberation Serif, serif" font-size="9.8" font-style="italic" fill="#1a1a1a">ω</text><text x="183.00" y="266.90" font-family="Liberation Serif, serif" font-size="6.8" fill="#1a1a1a">0</text><text x="183.00" y="273.30" font-family="Liberation Serif, serif" font-size="6.8" fill="#1a1a1a">1</text><text x="335.00" y="271.30" font-family="Liberation Serif, serif" font-size="9.8" font-style="italic" fill="#1a1a1a">ω</text><text x="341.50" y="273.10" font-family="Liberation Serif, serif" font-size="6.8" fill="#1a1a1a">1</text><text x="346.00" y="273.10" font-family="Liberation Serif, serif" font-size="11.8" fill="#1a1a1a">/</text><text x="349.90" y="271.30" font-family="Liberation Serif, serif" font-size="9.8" font-style="italic" fill="#1a1a1a">ω</text><text x="356.40" y="266.90" font-family="Liberation Serif, serif" font-size="6.8" fill="#1a1a1a">0</text><text x="356.40" y="273.30" font-family="Liberation Serif, serif" font-size="6.8" fill="#1a1a1a">1</text><text x="97.60" y="279.60" font-family="Liberation Serif, serif" font-size="9.8" font-style="italic" fill="#1a1a1a">ω</text><text x="104.10" y="281.40" font-family="Liberation Serif, serif" font-size="6.8" fill="#1a1a1a">2</text><text x="108.60" y="281.40" font-family="Liberation Serif, serif" font-size="11.8" fill="#1a1a1a">/</text><text x="112.50" y="279.60" font-family="Liberation Serif, serif" font-size="9.8" font-style="italic" fill="#1a1a1a">ω</text><text x="119.00" y="275.20" font-family="Liberation Serif, serif" font-size="6.8" fill="#1a1a1a">0</text><text x="119.00" y="281.60" font-family="Liberation Serif, serif" font-size="6.8" fill="#1a1a1a">2</text><text x="254.20" y="279.60" font-family="Liberation Serif, serif" font-size="9.8" font-style="italic" fill="#1a1a1a">ω</text><text x="260.70" y="281.40" font-family="Liberation Serif, serif" font-size="6.8" fill="#1a1a1a">2</text><text x="265.20" y="281.40" font-family="Liberation Serif, serif" font-size="11.8" fill="#1a1a1a">/</text><text x="269.10" y="279.60" font-family="Liberation Serif, serif" font-size="9.8" font-style="italic" fill="#1a1a1a">ω</text><text x="275.60" y="275.20" font-family="Liberation Serif, serif" font-size="6.8" fill="#1a1a1a">0</text><text x="275.60" y="281.60" font-family="Liberation Serif, serif" font-size="6.8" fill="#1a1a1a">2</text><text x="406.40" y="279.60" font-family="Liberation Serif, serif" font-size="9.8" font-style="italic" fill="#1a1a1a">ω</text><text x="412.90" y="281.40" font-family="Liberation Serif, serif" font-size="6.8" fill="#1a1a1a">2</text><text x="417.40" y="281.40" font-family="Liberation Serif, serif" font-size="11.8" fill="#1a1a1a">/</text><text x="421.30" y="279.60" font-family="Liberation Serif, serif" font-size="9.8" font-style="italic" fill="#1a1a1a">ω</text><text x="427.80" y="275.20" font-family="Liberation Serif, serif" font-size="6.8" fill="#1a1a1a">0</text><text x="427.80" y="281.60" font-family="Liberation Serif, serif" font-size="6.8" fill="#1a1a1a">2</text><text x="497.90" y="279.30" font-family="Liberation Serif, serif" font-size="9.9" font-style="italic" fill="#1a1a1a">ω</text><text x="504.30" y="281.00" font-family="Liberation Serif, serif" font-size="6.9" fill="#1a1a1a">1</text><text x="509.60" y="279.30" font-family="Liberation Serif, serif" font-size="10.395000000000001" fill="#1a1a1a">+</text><text x="518.50" y="279.30" font-family="Liberation Serif, serif" font-size="9.9" font-style="italic" fill="#1a1a1a">ω</text><text x="524.80" y="281.00" font-family="Liberation Serif, serif" font-size="6.9" fill="#1a1a1a">2</text><text x="528.90" y="281.10" font-family="Liberation Serif, serif" font-size="11.8" fill="#1a1a1a">/</text><text x="533.90" y="281.20" font-family="Liberation Serif, serif" font-size="11.5" fill="#1a1a1a">(</text><text x="536.60" y="279.30" font-family="Liberation Serif, serif" font-size="9.9" font-style="italic" fill="#1a1a1a">ω</text><text x="543.40" y="274.70" font-family="Liberation Serif, serif" font-size="6.9" fill="#1a1a1a">0</text><text x="543.40" y="281.30" font-family="Liberation Serif, serif" font-size="6.9" fill="#1a1a1a">1</text><text x="548.90" y="279.30" font-family="Liberation Serif, serif" font-size="10.395000000000001" fill="#1a1a1a">+</text><text x="557.50" y="279.30" font-family="Liberation Serif, serif" font-size="9.9" font-style="italic" fill="#1a1a1a">ω</text><text x="564.30" y="274.70" font-family="Liberation Serif, serif" font-size="6.9" fill="#1a1a1a">0</text><text x="564.30" y="281.30" font-family="Liberation Serif, serif" font-size="6.9" fill="#1a1a1a">2</text><text x="567.60" y="281.20" font-family="Liberation Serif, serif" font-size="11.5" fill="#1a1a1a">)</text><text x="592.00" y="279.30" font-family="Liberation Serif, serif" font-size="9.9" font-style="italic" fill="#1a1a1a">ω</text><text x="598.40" y="281.00" font-family="Liberation Serif, serif" font-size="6.9" fill="#1a1a1a">1</text><text x="603.70" y="279.30" font-family="Liberation Serif, serif" font-size="10.395000000000001" fill="#1a1a1a">−</text><text x="612.60" y="279.30" font-family="Liberation Serif, serif" font-size="9.9" font-style="italic" fill="#1a1a1a">ω</text><text x="618.90" y="281.00" font-family="Liberation Serif, serif" font-size="6.9" fill="#1a1a1a">2</text><text x="623.00" y="281.10" font-family="Liberation Serif, serif" font-size="11.8" fill="#1a1a1a">/</text><text x="628.00" y="281.20" font-family="Liberation Serif, serif" font-size="11.5" fill="#1a1a1a">(</text><text x="630.70" y="279.30" font-family="Liberation Serif, serif" font-size="9.9" font-style="italic" fill="#1a1a1a">ω</text><text x="637.50" y="274.70" font-family="Liberation Serif, serif" font-size="6.9" fill="#1a1a1a">0</text><text x="637.50" y="281.30" font-family="Liberation Serif, serif" font-size="6.9" fill="#1a1a1a">1</text><text x="643.00" y="279.30" font-family="Liberation Serif, serif" font-size="10.395000000000001" fill="#1a1a1a">−</text><text x="651.60" y="279.30" font-family="Liberation Serif, serif" font-size="9.9" font-style="italic" fill="#1a1a1a">ω</text><text x="658.40" y="274.70" font-family="Liberation Serif, serif" font-size="6.9" fill="#1a1a1a">0</text><text x="658.40" y="281.30" font-family="Liberation Serif, serif" font-size="6.9" fill="#1a1a1a">2</text><text x="661.70" y="281.20" font-family="Liberation Serif, serif" font-size="11.5" fill="#1a1a1a">)</text><line x1="499.60" y1="26.00" x2="565.70" y2="26.00" stroke="#b0b0b0" stroke-width="0.7" /><line x1="499.60" y1="92.60" x2="565.70" y2="92.60" stroke="#b0b0b0" stroke-width="0.7" /><line x1="565.70" y1="26.00" x2="565.70" y2="92.60" stroke="#a8a8a8" stroke-width="0.7" /><line x1="499.60" y1="26.00" x2="499.60" y2="92.60" stroke="#9dbad6" stroke-width="0.7" /><path d="M500.6,25.6 L565.7,86.3" stroke="#141414" stroke-width="1.05" fill="none" stroke-dasharray="1.4,0.5"/><path d="M499.60,92.59 L502.30,92.58 L507.80,92.34 L513.30,90.22 L518.80,80.02 L524.30,54.38 L529.80,26.00 L535.30,26.00 L540.80,54.38 L546.30,80.02 L551.80,90.22 L557.30,92.34 L562.80,92.58 L565.70,92.59" stroke="#d95319" stroke-width="1.0" fill="none" stroke-linejoin="round"/><path d="M499.60,92.59 L502.30,92.58 L507.80,92.34 L513.30,90.22 L518.80,80.02 L524.30,54.38 L529.80,26.00 L535.30,26.00 L540.80,54.38 L546.30,80.02 L551.80,90.22 L557.30,92.34 L562.80,92.58 L565.70,92.59" stroke="#0072bd" stroke-width="2.3" fill="none" stroke-linejoin="round" stroke-dasharray="10.2,9.0" stroke-dashoffset="17.53"/><text x="496.60" y="29.20" font-size="8.6" text-anchor="end" fill="#3d7fc0" font-family="Liberation Sans, sans-serif" >1</text><text x="497.10" y="62.50" font-size="8.6" text-anchor="end" fill="#3d7fc0" font-family="Liberation Sans, sans-serif" >0.5</text><text x="496.60" y="95.80" font-size="8.6" text-anchor="end" fill="#3d7fc0" font-family="Liberation Sans, sans-serif" >0</text><line x1="590.50" y1="26.10" x2="656.60" y2="26.10" stroke="#b0b0b0" stroke-width="0.7" /><line x1="590.50" y1="93.30" x2="656.60" y2="93.30" stroke="#b0b0b0" stroke-width="0.7" /><line x1="656.60" y1="26.10" x2="656.60" y2="93.30" stroke="#a8a8a8" stroke-width="0.7" /><line x1="590.50" y1="26.10" x2="590.50" y2="93.30" stroke="#9dbad6" stroke-width="0.7" /><path d="M590.5,26.1 Q623.4,59.3 656.6,84.1" stroke="#141414" stroke-width="1.05" fill="none" stroke-dasharray="1.4,0.5"/><path d="M590.50,93.24 L590.85,93.23 L596.35,92.62 L601.85,89.04 L607.35,76.39 L612.85,50.87 L618.35,26.10 L623.85,26.10 L629.35,50.87 L634.85,76.39 L640.35,89.04 L645.85,92.62 L651.35,93.23 L656.60,93.29" stroke="#d95319" stroke-width="1.0" fill="none" stroke-linejoin="round"/><path d="M590.50,93.24 L590.85,93.23 L596.35,92.62 L601.85,89.04 L607.35,76.39 L612.85,50.87 L618.35,26.10 L623.85,26.10 L629.35,50.87 L634.85,76.39 L640.35,89.04 L645.85,92.62 L651.35,93.23 L656.60,93.29" stroke="#0072bd" stroke-width="2.3" fill="none" stroke-linejoin="round" stroke-dasharray="10.2,9.0" stroke-dashoffset="1.43"/><text x="659.80" y="29.30" font-size="8.6" text-anchor="start" fill="#262626" font-family="Liberation Sans, sans-serif" >700</text><text x="659.80" y="62.90" font-size="8.6" text-anchor="start" fill="#262626" font-family="Liberation Sans, sans-serif" >600</text><text x="659.80" y="96.50" font-size="8.6" text-anchor="start" fill="#262626" font-family="Liberation Sans, sans-serif" >500</text><line x1="499.70" y1="107.90" x2="565.70" y2="107.90" stroke="#b0b0b0" stroke-width="0.7" /><line x1="499.70" y1="174.10" x2="565.70" y2="174.10" stroke="#b0b0b0" stroke-width="0.7" /><line x1="565.70" y1="107.90" x2="565.70" y2="174.10" stroke="#a8a8a8" stroke-width="0.7" /><line x1="499.70" y1="107.90" x2="499.70" y2="174.10" stroke="#9dbad6" stroke-width="0.7" /><path d="M499.7,113.7 L565.7,171.1" stroke="#141414" stroke-width="1.05" fill="none" stroke-dasharray="1.4,0.5"/><path d="M499.70,174.09 L502.60,174.08 L507.20,173.91 L511.80,172.78 L516.40,167.79 L521.00,153.66 L525.60,129.35 L530.20,107.90 L534.80,107.90 L539.40,129.35 L544.00,153.66 L548.60,167.79 L553.20,172.78 L557.80,173.91 L562.40,174.08 L565.70,174.09" stroke="#d95319" stroke-width="1.0" fill="none" stroke-linejoin="round"/><path d="M499.70,174.09 L502.60,174.09 L507.20,173.95 L511.80,172.97 L516.40,168.34 L521.00,154.58 L525.60,130.04 L530.20,107.90 L534.80,107.90 L539.40,130.04 L544.00,154.58 L548.60,168.34 L553.20,172.97 L557.80,173.95 L562.40,174.09 L565.70,174.10" stroke="#0072bd" stroke-width="2.3" fill="none" stroke-linejoin="round" stroke-dasharray="10.2,9.0" stroke-dashoffset="17.98"/><text x="496.70" y="111.10" font-size="8.6" text-anchor="end" fill="#3d7fc0" font-family="Liberation Sans, sans-serif" >1</text><text x="497.20" y="144.20" font-size="8.6" text-anchor="end" fill="#3d7fc0" font-family="Liberation Sans, sans-serif" >0.5</text><text x="496.70" y="177.30" font-size="8.6" text-anchor="end" fill="#3d7fc0" font-family="Liberation Sans, sans-serif" >0</text><line x1="590.30" y1="109.40" x2="656.40" y2="109.40" stroke="#b0b0b0" stroke-width="0.7" /><line x1="590.30" y1="175.60" x2="656.40" y2="175.60" stroke="#b0b0b0" stroke-width="0.7" /><line x1="656.40" y1="109.40" x2="656.40" y2="175.60" stroke="#a8a8a8" stroke-width="0.7" /><line x1="590.30" y1="109.40" x2="590.30" y2="175.60" stroke="#9dbad6" stroke-width="0.7" /><path d="M590.3,154.2 L656.4,134.2" stroke="#141414" stroke-width="1.05" fill="none" stroke-dasharray="1.4,0.5"/><path d="M590.30,175.57 L593.65,175.49 L597.85,174.92 L602.05,172.48 L606.25,165.01 L610.45,149.12 L614.65,126.82 L618.85,109.40 L623.05,109.40 L627.25,126.82 L631.45,149.12 L635.65,165.01 L639.85,172.48 L644.05,174.92 L648.25,175.49 L652.45,175.59 L656.40,175.60" stroke="#d95319" stroke-width="1.0" fill="none" stroke-linejoin="round"/><path d="M590.30,175.60 L593.65,175.60 L597.85,175.60 L602.05,175.56 L606.25,174.78 L610.45,168.23 L614.65,143.75 L618.85,109.40 L623.05,109.40 L627.25,143.75 L631.45,168.23 L635.65,174.78 L639.85,175.56 L644.05,175.60 L648.25,175.60 L652.45,175.60 L656.40,175.60" stroke="#0072bd" stroke-width="2.3" fill="none" stroke-linejoin="round" stroke-dasharray="10.2,9.0" stroke-dashoffset="15.75"/><text x="659.60" y="112.60" font-size="8.6" text-anchor="start" fill="#262626" font-family="Liberation Sans, sans-serif" >200</text><text x="659.60" y="145.70" font-size="8.6" text-anchor="start" fill="#262626" font-family="Liberation Sans, sans-serif" >170</text><text x="659.60" y="178.80" font-size="8.6" text-anchor="start" fill="#262626" font-family="Liberation Sans, sans-serif" >140</text><line x1="500.00" y1="190.60" x2="565.40" y2="190.60" stroke="#b0b0b0" stroke-width="0.7" /><line x1="500.00" y1="254.80" x2="565.40" y2="254.80" stroke="#b0b0b0" stroke-width="0.7" /><line x1="565.40" y1="190.60" x2="565.40" y2="254.80" stroke="#a8a8a8" stroke-width="0.7" /><line x1="500.00" y1="190.60" x2="500.00" y2="254.80" stroke="#9dbad6" stroke-width="0.7" /><path d="M500.0,190.6 L565.4,248.5" stroke="#141414" stroke-width="1.05" fill="none" stroke-dasharray="1.4,0.5"/><path d="M500.00,254.79 L502.55,254.78 L506.05,254.66 L509.55,254.16 L513.05,252.42 L516.55,247.65 L520.05,237.60 L523.55,221.57 L527.05,203.25 L530.55,190.60 L534.05,190.60 L537.55,203.25 L541.05,221.57 L544.55,237.60 L548.05,247.65 L551.55,252.42 L555.05,254.16 L558.55,254.66 L562.05,254.78 L565.40,254.80" stroke="#d95319" stroke-width="1.0" fill="none" stroke-linejoin="round"/><path d="M500.00,254.79 L502.55,254.78 L506.05,254.66 L509.55,254.16 L513.05,252.42 L516.55,247.65 L520.05,237.60 L523.55,221.57 L527.05,203.25 L530.55,190.60 L534.05,190.60 L537.55,203.25 L541.05,221.57 L544.55,237.60 L548.05,247.65 L551.55,252.42 L555.05,254.16 L558.55,254.66 L562.05,254.78 L565.40,254.80" stroke="#0072bd" stroke-width="2.3" fill="none" stroke-linejoin="round" stroke-dasharray="10.2,9.0" stroke-dashoffset="1.91"/><text x="497.00" y="193.80" font-size="8.6" text-anchor="end" fill="#3d7fc0" font-family="Liberation Sans, sans-serif" >1</text><text x="497.50" y="225.90" font-size="8.6" text-anchor="end" fill="#3d7fc0" font-family="Liberation Sans, sans-serif" >0.5</text><text x="497.00" y="258.00" font-size="8.6" text-anchor="end" fill="#3d7fc0" font-family="Liberation Sans, sans-serif" >0</text><line x1="590.60" y1="190.60" x2="656.40" y2="190.60" stroke="#b0b0b0" stroke-width="0.7" /><line x1="590.60" y1="254.90" x2="656.40" y2="254.90" stroke="#b0b0b0" stroke-width="0.7" /><line x1="656.40" y1="190.60" x2="656.40" y2="254.90" stroke="#a8a8a8" stroke-width="0.7" /><line x1="590.60" y1="190.60" x2="590.60" y2="254.90" stroke="#9dbad6" stroke-width="0.7" /><path d="M590.6,190.6 Q630.8,227.6 656.4,245.1" stroke="#141414" stroke-width="1.05" fill="none" stroke-dasharray="1.4,0.5"/><path d="M590.60,254.79 L592.10,254.74 L595.90,254.18 L599.70,252.31 L603.50,247.35 L607.30,237.12 L611.10,221.09 L614.90,203.00 L618.70,190.60 L622.50,190.60 L626.30,203.00 L630.10,221.09 L633.90,237.12 L637.70,247.35 L641.50,252.31 L645.30,254.18 L649.10,254.74 L652.90,254.87 L656.40,254.89" stroke="#d95319" stroke-width="1.0" fill="none" stroke-linejoin="round"/><path d="M590.60,254.79 L592.10,254.74 L595.90,254.18 L599.70,252.31 L603.50,247.35 L607.30,237.12 L611.10,221.09 L614.90,203.00 L618.70,190.60 L622.50,190.60 L626.30,203.00 L630.10,221.09 L633.90,237.12 L637.70,247.35 L641.50,252.31 L645.30,254.18 L649.10,254.74 L652.90,254.87 L656.40,254.89" stroke="#0072bd" stroke-width="2.3" fill="none" stroke-linejoin="round" stroke-dasharray="10.2,9.0" stroke-dashoffset="5.33"/><text x="659.60" y="193.80" font-size="8.6" text-anchor="start" fill="#262626" font-family="Liberation Sans, sans-serif" >1.4</text><text x="659.60" y="225.95" font-size="8.6" text-anchor="start" fill="#262626" font-family="Liberation Sans, sans-serif" >1.2</text><text x="659.60" y="258.10" font-size="8.6" text-anchor="start" fill="#262626" font-family="Liberation Sans, sans-serif" >1</text><text x="499.40" y="265.80" font-size="8.6" text-anchor="middle" fill="#262626" font-family="Liberation Sans, sans-serif" >0.99</text><text x="532.90" y="265.80" font-size="8.6" text-anchor="middle" fill="#262626" font-family="Liberation Sans, sans-serif" >1</text><text x="565.20" y="265.80" font-size="8.6" text-anchor="middle" fill="#262626" font-family="Liberation Sans, sans-serif" >1.01</text><text x="590.00" y="266.10" font-size="8.6" text-anchor="middle" fill="#262626" font-family="Liberation Sans, sans-serif" >0.81</text><text x="619.80" y="266.10" font-size="8.6" text-anchor="middle" fill="#262626" font-family="Liberation Sans, sans-serif" >1</text><text x="653.20" y="266.10" font-size="8.6" text-anchor="middle" fill="#262626" font-family="Liberation Sans, sans-serif" >1.2</text></svg></body></html>
